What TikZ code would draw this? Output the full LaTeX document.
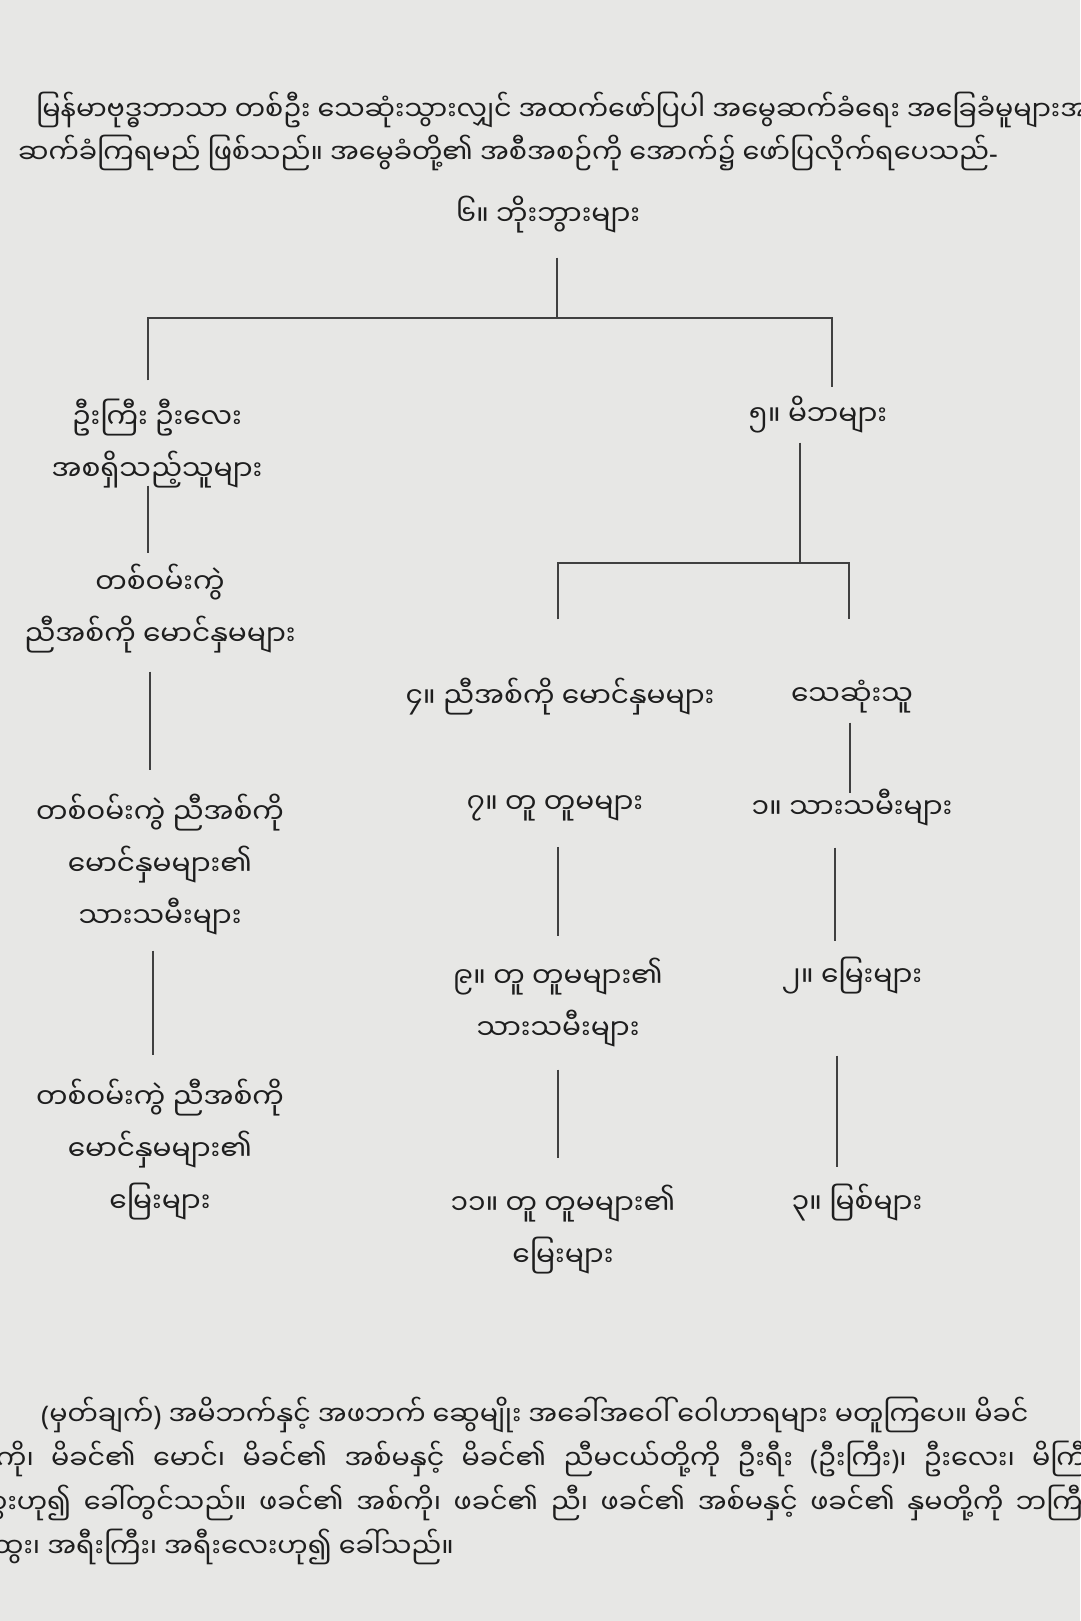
\documentclass[tikz,border=0pt]{standalone}
\usepackage{fontspec}
\newfontfamily\mya[Script=Myanmar]{Noto Sans Myanmar UI}
\newfontfamily\latn{Noto Sans}
\definecolor{paper}{RGB}{231,231,229}
\definecolor{ink}{RGB}{30,30,30}

\begin{document}
\begin{tikzpicture}
        [x=1pt,y=-1pt,every node/.style={font=\mya\fontsize{28}{52}\selectfont, text=ink, align=center, inner sep=9pt},
         para/.style={anchor=west, align=left, inner sep=0pt, font=\mya\fontsize{27}{44}\selectfont},
         link/.style={draw=ink!85, line width=1.7pt}]
      \fill[paper] (0,0) rectangle (1080,1621);
      \useasboundingbox (0,0) rectangle (1080,1621);

      % text above the chart
      \node[para] (intro1) at (36,110) {မြန်မာဗုဒ္ဓဘာသာ တစ်ဦး သေဆုံးသွားလျှင် အထက်ဖော်ပြပါ အမွေဆက်ခံရေး အခြေခံမူများအရ};
      \node[para] (intro2) at (18,153) {ဆက်ခံကြရမည် ဖြစ်သည်။ အမွေခံတို့၏ အစီအစဉ်ကို အောက်၌ ဖော်ပြလိုက်ရပေသည်{\latn-}};

      % heirs
      \node (n6) at (548,215) {၆။ ဘိုးဘွားများ};
      \node (uncle) at (157,444) {ဦးကြီး ဦးလေး\\အစရှိသည့်သူများ};
      \node (cousin) at (160,609) {တစ်ဝမ်းကွဲ\\ညီအစ်ကို မောင်နှမများ};
      \node (cchild) at (160,865) {တစ်ဝမ်းကွဲ ညီအစ်ကို\\မောင်နှမများ၏\\သားသမီးများ};
      \node (cgrand) at (160,1150) {တစ်ဝမ်းကွဲ ညီအစ်ကို\\မောင်နှမများ၏\\မြေးများ};
      \node (n5) at (818,415) {၅။ မိဘများ};
      \node (n4) at (560,697) {၄။ ညီအစ်ကို မောင်နှမများ};
      \node (dead) at (852,697) {သေဆုံးသူ};
      \node (n7) at (555,808) {၇။ တူ တူမများ};
      \node (n1) at (852,808) {၁။ သားသမီးများ};
      \node (n9) at (558,1003) {၉။ တူ တူမများ၏\\သားသမီးများ};
      \node (n2) at (852,976) {၂။ မြေးများ};
      \node (n11) at (563,1230) {၁၁။ တူ တူမများ၏\\မြေးများ};
      \node (n3) at (857,1203) {၃။ မြစ်များ};

      \coordinate (jtop) at (557,318);
      \coordinate (jmid) at (800,563);

      \draw[link, shorten <=15pt] (n6.south -| jtop) -- (jtop);
      \draw[link, shorten <=10pt] ([xshift=-9pt]uncle.north) |- (jtop) -| ([xshift=14pt]n5.north);
      \draw[link] (n5.south -| jmid) -- (jmid);
      \draw[link, shorten <=50pt, shorten >=52pt] ([xshift=-2pt]n4.north) |- (jmid) -| ([xshift=-3pt]dead.north);
      \foreach \from/\to/\dx/\sa/\sb in {uncle/cousin/-9pt/-12pt/2pt, cousin/cchild/-10pt/9pt/15pt,
                                         cchild/cgrand/-7pt/6pt/15pt, dead/n1/-2pt/0pt/-13pt,
                                         n7/n9/3pt/17pt/13pt, n9/n11/0pt/13pt/18pt,
                                         n1/n2/-17pt/12pt/7pt, n2/n3/-15pt/52pt/8pt}
        \draw[link, shorten <=\sa, shorten >=\sb] ([xshift=\dx]\from.south) -- ([xshift=\dx]\from.south |- \to.north);

      % note below the chart
      \node[para] (note1) at (41,1415) {{\latn(}မှတ်ချက်{\latn)} အမိဘက်နှင့် အဖဘက် ဆွေမျိုး အခေါ်အဝေါ် ဝေါဟာရများ မတူကြပေ။ မိခင်};
      \node[para] (note2) at (-4,1459) {\makebox[1100pt][s]{ကို၊ မိခင်၏ မောင်၊ မိခင်၏ အစ်မနှင့် မိခင်၏ ညီမငယ်တို့ကို ဦးရီး {\latn(}ဦးကြီး{\latn)}၊ ဦးလေး၊ မိကြီး}};
      \node[para] (note3) at (-58,1503) {\makebox[1150pt][s]{မိထွေးဟု၍ ခေါ်တွင်သည်။ ဖခင်၏ အစ်ကို၊ ဖခင်၏ ညီ၊ ဖခင်၏ အစ်မနှင့် ဖခင်၏ နှမတို့ကို ဘကြီး}};
      \node[para] (note4) at (-54,1547) {ဘထွေး၊ အရီးကြီး၊ အရီးလေးဟု၍ ခေါ်သည်။};
    \end{tikzpicture}
\end{document}
